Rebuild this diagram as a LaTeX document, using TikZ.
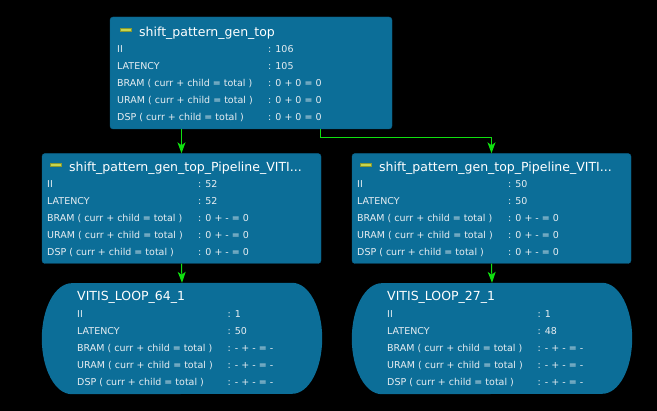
\documentclass[tikz,border=0pt]{standalone}
\usepackage{fontspec}
\setmainfont{DejaVu Sans}
\usetikzlibrary{arrows.meta}

\definecolor{boxblue}{HTML}{0C6E98}
\definecolor{boxedge}{HTML}{0A6088}
\definecolor{wiregreen}{HTML}{10E010}
\definecolor{iconfill}{HTML}{C6D64E}
\definecolor{iconedge}{HTML}{8A9A30}
\definecolor{bodytext}{HTML}{E8EEF2}

% rows of one module box
\newcommand{\statrows}[6]{\begin{tabular}[t]{@{}p{#1}@{}l@{}}II&: #2\\LATENCY&: #3\\BRAM ( curr + child = total )&: #4\\URAM ( curr + child = total )&: #5\\DSP ( curr + child = total )&: #6\end{tabular}}

\tikzset{
  modbox/.style={draw=boxedge, fill=boxblue, rounded corners=3pt, inner sep=0pt},
  loopnode/.style={inner sep=0pt, minimum width=280pt, minimum height=111pt},
  title/.style={anchor=base west, inner sep=0pt, text=white, font=\fontsize{12.5}{15}\selectfont},
  stats/.style={anchor=base west, inner sep=0pt, text=bodytext, font=\fontsize{9.5}{17}\selectfont},
  icon/.style={draw=iconedge, fill=iconfill, inner sep=0pt, minimum width=11pt, minimum height=3.5pt},
  wire/.style={draw=wiregreen, line width=1pt, -{Stealth[length=11pt,width=8pt,inset=3pt]}}
}

\begin{document}
\begin{tikzpicture}[x=1pt,y=-1pt]
  % background
  \fill[black] (0,0) rectangle (657,411);

  % boxes
  \node[modbox, minimum width=282pt, minimum height=112pt] (top) at (251,73) {};
  \node[modbox, minimum width=279pt, minimum height=110pt] (pipeL) at (181.5,208.5) {};
  \node[modbox, minimum width=279pt, minimum height=110pt] (pipeR) at (491.5,208.5) {};
  \node[loopnode] (loopL) at (182,338.5) {};
  \node[loopnode] (loopR) at (492,338.5) {};
  \foreach \lp in {loopL,loopR}
    \fill[boxblue] ([xshift=-30pt]\lp.north east) arc[start angle=90,end angle=-90,x radius=30pt,y radius=55.5pt]
      -- ([xshift=30pt]\lp.south west) arc[start angle=270,end angle=90,x radius=30pt,y radius=55.5pt] -- cycle;

  % titles
  \node[icon] (topicon) at (125.5,29.5) {};
  \node[title] (toptitle) at (139,36.7) {shift\_pattern\_gen\_top};
  \node[icon] (pipeLicon) at (55.5,164.5) {};
  \node[title] (pipeLtitle) at (69,171.7) {shift\_pattern\_gen\_top\_Pipeline\_VITI...};
  \node[icon] (pipeRicon) at (365.5,164.5) {};
  \node[title] (pipeRtitle) at (379,171.7) {shift\_pattern\_gen\_top\_Pipeline\_VITI...};
  \node[title] (loopLtitle) at (77,300.7) {VITIS\_LOOP\_64\_1};
  \node[title] (loopRtitle) at (387,300.7) {VITIS\_LOOP\_27\_1};

  % stats
  \node[stats] (topstats) at (117,52.3) {\statrows{151pt}{106}{105}{0 + 0 = 0}{0 + 0 = 0}{0 + 0 = 0}};
  \node[stats] (pipeLstats) at (47,187.3) {\statrows{151pt}{52}{52}{0 + - = 0}{0 + - = 0}{0 + - = 0}};
  \node[stats] (pipeRstats) at (357,187.3) {\statrows{151pt}{50}{50}{0 + - = 0}{0 + - = 0}{0 + - = 0}};
  \node[stats] (loopLstats) at (77,317.3) {\statrows{150.5pt}{1}{50}{- + - = -}{- + - = -}{- + - = -}};
  \node[stats] (loopRstats) at (387,317.3) {\statrows{150.5pt}{1}{48}{- + - = -}{- + - = -}{- + - = -}};

  % wires
  \coordinate (tapR) at (320,129);
  \draw[wire] (top.south -| pipeL.north) -- (pipeL.north);
  \draw[wire] (tapR) -- ++(0,9) -| (pipeR.north);
  \draw[wire] (pipeL.south) -- (loopL.north);
  \draw[wire] (pipeR.south) -- (loopR.north);
\end{tikzpicture}
\end{document}
